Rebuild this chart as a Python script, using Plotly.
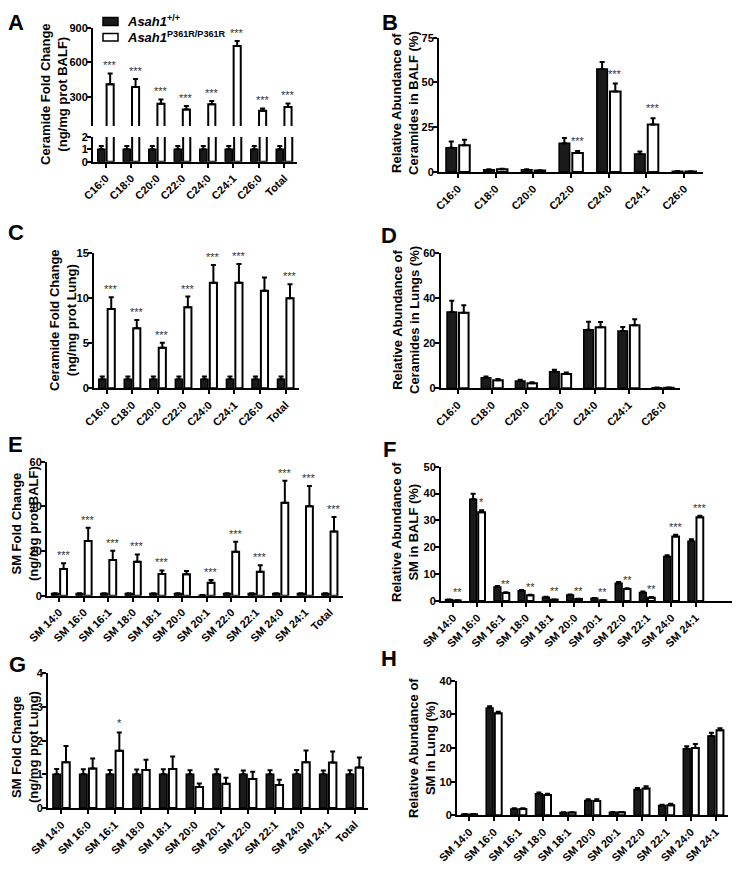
import plotly.graph_objects as go

# ---------------- data ----------------
cer_cats_8 = ["C16:0", "C18:0", "C20:0", "C22:0", "C24:0", "C24:1", "C26:0", "Total"]
cer_cats_7 = cer_cats_8[:7]
sm_cats_12 = ["SM 14:0", "SM 16:0", "SM 16:1", "SM 18:0", "SM 18:1", "SM 20:0",
              "SM 20:1", "SM 22:0", "SM 22:1", "SM 24:0", "SM 24:1", "Total"]
sm_cats_11 = sm_cats_12[:11]

# A: Ceramide fold change, BALF
A_wt = [1, 1, 1, 1, 1, 1, 1, 1]
A_wt_err = [0.28, 0.27, 0.28, 0.28, 0.28, 0.27, 0.28, 0.28]
A_mut = [410, 387, 242, 193, 237, 741, 182, 214]
A_mut_err = [95, 69, 38, 29, 29, 44, 20, 31]
A_stars = ["***"] * 8

# B: relative abundance ceramides BALF (%)
B_wt = [13.5, 1.3, 1.2, 16.1, 57.5, 10.0, 0.4]
B_wt_err = [3.5, 0.3, 0.3, 2.9, 3.9, 1.5, 0.1]
B_mut = [15.0, 1.5, 0.8, 10.6, 44.9, 26.5, 0.3]
B_mut_err = [3.0, 0.3, 0.2, 1.1, 4.5, 3.5, 0.1]
B_stars = ["", "", "", "***", "***", "***", ""]

# C: Ceramide fold change, lung
C_wt = [1, 1, 1, 1, 1, 1, 1, 1]
C_wt_err = [0.3] * 8
C_mut = [8.8, 6.67, 4.5, 9.0, 11.74, 11.74, 10.85, 10.0]
C_mut_err = [1.33, 0.93, 0.57, 1.2, 1.96, 2.06, 1.45, 1.56]
C_stars = ["***", "***", "***", "***", "***", "***", "", "***"]

# D: relative abundance ceramides lungs (%)
D_wt = [33.9, 4.7, 3.3, 7.4, 26.0, 25.5, 0.3]
D_wt_err = [5.0, 0.5, 0.55, 0.9, 3.6, 1.8, 0.1]
D_mut = [33.6, 3.55, 2.2, 6.4, 27.1, 28.0, 0.3]
D_mut_err = [3.3, 0.55, 0.5, 0.6, 2.4, 2.7, 0.1]

# E: SM fold change, BALF
E_wt = [1, 1, 1, 1, 1, 1, 0.2, 1, 1, 1, 1, 1]
E_wt_err = [0.15] * 12
E_mut = [11.9, 24.5, 16.0, 15.2, 9.7, 9.55, 5.8, 19.7, 10.7, 41.6, 40.0, 28.7]
E_mut_err = [2.6, 5.9, 4.1, 3.3, 1.6, 1.5, 1.2, 4.5, 2.9, 9.9, 9.1, 6.5]
E_stars = ["***", "***", "***", "***", "***", "", "***", "***", "***", "***", "***", "***"]

# F: relative abundance SM BALF (%)
F_wt = [0.5, 37.9, 5.2, 3.85, 1.4, 2.2, 1.0, 6.6, 3.2, 16.6, 22.2]
F_wt_err = [0.1, 2.0, 0.4, 0.25, 0.2, 0.25, 0.15, 0.5, 0.3, 0.4, 0.8]
F_mut = [0.2, 33.0, 3.0, 2.1, 0.5, 0.75, 0.25, 4.5, 1.2, 24.0, 31.2]
F_mut_err = [0.05, 0.8, 0.25, 0.25, 0.1, 0.1, 0.05, 0.25, 0.3, 0.7, 0.5]
F_stars = ["**", "*", "**", "**", "**", "**", "**", "**", "**", "***", "***"]

# G: SM fold change, lung
G_wt = [1] * 12
G_wt_err = [0.16, 0.15, 0.13, 0.14, 0.15, 0.12, 0.15, 0.11, 0.12, 0.13, 0.11, 0.12]
G_mut = [1.36, 1.17, 1.7, 1.13, 1.16, 0.62, 0.72, 0.86, 0.68, 1.36, 1.35, 1.2]
G_mut_err = [0.48, 0.3, 0.54, 0.3, 0.37, 0.11, 0.18, 0.22, 0.16, 0.35, 0.33, 0.3]
G_stars = ["", "", "*", "", "", "", "", "", "", "", "", ""]

# H: relative abundance SM lung (%)
H_wt = [0.3, 31.9, 1.9, 6.4, 0.8, 4.4, 0.9, 7.7, 2.9, 19.8, 23.6]
H_wt_err = [0.05, 0.5, 0.2, 0.4, 0.1, 0.35, 0.1, 0.4, 0.2, 0.7, 0.9]
H_mut = [0.3, 30.3, 1.9, 6.0, 0.8, 4.26, 0.9, 8.0, 3.0, 20.0, 25.3]
H_mut_err = [0.05, 0.5, 0.2, 0.4, 0.1, 0.5, 0.1, 0.6, 0.4, 1.2, 0.6]

# ---------------- layout helpers ----------------
W, H, OFF = 724, 855, 8
FONT = "Arial, Liberation Sans, sans-serif"
WT_NAME = "<i>Asah1</i><sup>+/+</sup>"
MUT_NAME = "<i>Asah1</i><sup>P361R/P361R</sup>"
BARGAP = 0.3
WHITE_OFF = (1 - BARGAP) / 4


def fx(p):
    return min(1.0, max(0.0, (p - OFF) / W))


def fy(p):
    return min(1.0, max(0.0, 1 - (p - OFF) / H))


fig = go.Figure()
annotations = []
shapes = []


def add_pair(cats, wt, wt_err, mut, mut_err, xa, ya):
    fig.add_bar(x=cats, y=wt, name=WT_NAME, legendgroup="wt", showlegend=False,
                marker=dict(color="#1a1a1a", line=dict(color="black", width=1.5)),
                error_y=dict(type="data", symmetric=False, array=wt_err,
                             arrayminus=[0] * len(wt_err), color="black",
                             thickness=2, width=2.5),
                xaxis=xa, yaxis=ya)
    fig.add_bar(x=cats, y=mut, name=MUT_NAME, legendgroup="mut", showlegend=False,
                marker=dict(color="white", line=dict(color="black", width=2)),
                error_y=dict(type="data", symmetric=False, array=mut_err,
                             arrayminus=[0] * len(mut_err), color="black",
                             thickness=2, width=2.5),
                xaxis=xa, yaxis=ya)


def add_stars(stars, mut, mut_err, xref, yref, shift=0):
    for i, s in enumerate(stars):
        if s:
            annotations.append(dict(x=i + WHITE_OFF, y=mut[i] + mut_err[i], xref=xref, yref=yref,
                                    text=s, showarrow=False, yanchor="bottom", yshift=shift,
                                    font=dict(family=FONT, size=11, color="#333")))


def xstyle(x0, x1, anchor, cats, rng=None, visible=True):
    d = dict(domain=[fx(x0), fx(x1)], anchor=anchor, type="category",
             categoryorder="array", categoryarray=cats, automargin=False,
             showline=True, linecolor="black", linewidth=2,
             ticks="outside", ticklen=4, tickwidth=2, tickcolor="black", tickangle=-45,
             tickfont=dict(family=FONT, size=11, color="black", weight="bold"),
             showgrid=False, zeroline=False, fixedrange=True, visible=visible)
    if rng is not None:
        d["range"] = rng
    return d


def ystyle(ytop, ybot, anchor, rng, tickvals):
    return dict(domain=[fy(ybot), fy(ytop)], anchor=anchor, range=rng, automargin=False,
                tickmode="array", tickvals=tickvals,
                showline=True, linecolor="black", linewidth=2,
                ticks="outside", ticklen=4, tickwidth=2, tickcolor="black",
                ticklabelstandoff=-3,
                tickfont=dict(family=FONT, size=11, color="black", weight="bold"),
                showgrid=False, zeroline=False, fixedrange=True)


# ---------------- traces ----------------
add_pair(cer_cats_8, A_wt, A_wt_err, A_mut, A_mut_err, "x", "y")
add_pair(cer_cats_8, A_wt, A_wt_err, A_mut, A_mut_err, "x2", "y2")
add_pair(cer_cats_7, B_wt, B_wt_err, B_mut, B_mut_err, "x3", "y3")
add_pair(cer_cats_8, C_wt, C_wt_err, C_mut, C_mut_err, "x4", "y4")
add_pair(cer_cats_7, D_wt, D_wt_err, D_mut, D_mut_err, "x5", "y5")
add_pair(sm_cats_12, E_wt, E_wt_err, E_mut, E_mut_err, "x6", "y6")
add_pair(sm_cats_11, F_wt, F_wt_err, F_mut, F_mut_err, "x7", "y7")
add_pair(sm_cats_12, G_wt, G_wt_err, G_mut, G_mut_err, "x8", "y8")
add_pair(sm_cats_11, H_wt, H_wt_err, H_mut, H_mut_err, "x9", "y9")

add_stars(A_stars, A_mut, A_mut_err, "x2", "y2")
add_stars(B_stars, B_mut, B_mut_err, "x3", "y3", 2)
add_stars(C_stars, C_mut, C_mut_err, "x4", "y4")
add_stars(E_stars, E_mut, E_mut_err, "x6", "y6")
add_stars(F_stars, F_mut, F_mut_err, "x7", "y7")
add_stars(G_stars, G_mut, G_mut_err, "x8", "y8", 2)

# ---------------- legend (panel A) ----------------
legend_rows = [(WT_NAME, "#1a1a1a", 17.5, 25.5, 21), (MUT_NAME, "white", 33.5, 41, 37)]
for name, fill, y_top, y_bot, y_mid in legend_rows:
    shapes.append(dict(type="rect", xref="paper", yref="paper",
                       x0=fx(103), x1=fx(118), y0=fy(y_bot), y1=fy(y_top),
                       fillcolor=fill, line=dict(color="black", width=1.5)))
    annotations.append(dict(x=fx(125), y=fy(y_mid), xref="paper", yref="paper",
                            text="<b>%s</b>" % name, showarrow=False,
                            xanchor="left", yanchor="middle",
                            font=dict(family=FONT, size=13, color="black")))

# ---------------- text: panel letters & y titles ----------------
# top-row letters are pinned to the top edge so their text box stays inside the page
for t, px in [("A", 16), ("B", 390)]:
    annotations.append(dict(x=fx(px), y=1.0, xref="paper", yref="paper", text="<b>%s</b>" % t,
                            showarrow=False, xanchor="center", yanchor="top",
                            font=dict(family=FONT, size=22, color="black")))
letters = [("C", 16, 233), ("D", 389, 236),
           ("E", 15, 445), ("F", 389, 449), ("G", 17, 664), ("H", 389, 658)]
for t, px, py in letters:
    annotations.append(dict(x=fx(px), y=fy(py), xref="paper", yref="paper", text="<b>%s</b>" % t,
                            showarrow=False, xanchor="center", yanchor="middle",
                            font=dict(family=FONT, size=22, color="black")))

ytitles = [("Ceramide Fold Change<br>(ng/mg prot BALF)", 54, 94),
           ("Relative Abundance of<br>Ceramides in BALF (%)", 405, 103),
           ("Ceramide Fold Change<br>(ng/mg prot Lung)", 63, 320),
           ("Relative Abundance of<br>Ceramides in Lungs (%)", 406, 320),
           ("SM Fold Change<br>(ng/mg prot BALF)", 25, 524),
           ("Relative Abundance of<br>SM in BALF (%)", 405, 532),
           ("SM Fold Change<br>(ng/mg prot Lung)", 25, 747),
           ("Relative Abundance of<br>SM in Lung (%)", 422, 748)]
for t, px, py in ytitles:
    annotations.append(dict(x=fx(px), y=fy(py), xref="paper", yref="paper", text="<b>%s</b>" % t,
                            showarrow=False, xanchor="center", yanchor="middle", textangle=-90,
                            font=dict(family=FONT, size=13, color="black")))

fig.update_layout(
    width=W, height=H, margin=dict(l=0, r=0, t=0, b=0, autoexpand=False),
    paper_bgcolor="white", plot_bgcolor="white",
    barmode="group", bargap=BARGAP, bargroupgap=0.2,
    font=dict(family=FONT, color="black"),
    showlegend=False,
    annotations=annotations,
    shapes=shapes,
    xaxis=xstyle(93, 297, "y", cer_cats_8),
    yaxis=ystyle(137, 161.7, "x", [0, 2], [0, 1, 2]),
    xaxis2=xstyle(93, 297, "y2", cer_cats_8, visible=False),
    yaxis2=ystyle(27.7, 126, "x2", [50, 900], [300, 600, 900]),
    xaxis3=xstyle(439, 703, "y3", cer_cats_7),
    yaxis3=ystyle(37.7, 172, "x3", [0, 75], [0, 25, 50, 75]),
    xaxis4=xstyle(94, 299, "y4", cer_cats_8),
    yaxis4=ystyle(253.3, 388.3, "x4", [0, 15], [0, 5, 10, 15]),
    xaxis5=xstyle(440.7, 680, "y5", cer_cats_7),
    yaxis5=ystyle(253.3, 388.3, "x5", [0, 60], [0, 20, 40, 60]),
    xaxis6=xstyle(47, 343, "y6", sm_cats_12),
    yaxis6=ystyle(461.7, 595.7, "x6", [0, 60], [0, 20, 40, 60]),
    xaxis7=xstyle(441, 738, "y7", sm_cats_11, rng=[-0.5, 11.5]),
    yaxis7=ystyle(466.7, 601, "x7", [0, 50], [0, 10, 20, 30, 40, 50]),
    xaxis8=xstyle(48, 368, "y8", sm_cats_12),
    yaxis8=ystyle(673.3, 808, "x8", [0, 4], [0, 1, 2, 3, 4]),
    xaxis9=xstyle(457, 728, "y9", sm_cats_11),
    yaxis9=ystyle(680.7, 815.3, "x9", [0, 40], [0, 10, 20, 30, 40]),
)

fig.write_html("out.html")
